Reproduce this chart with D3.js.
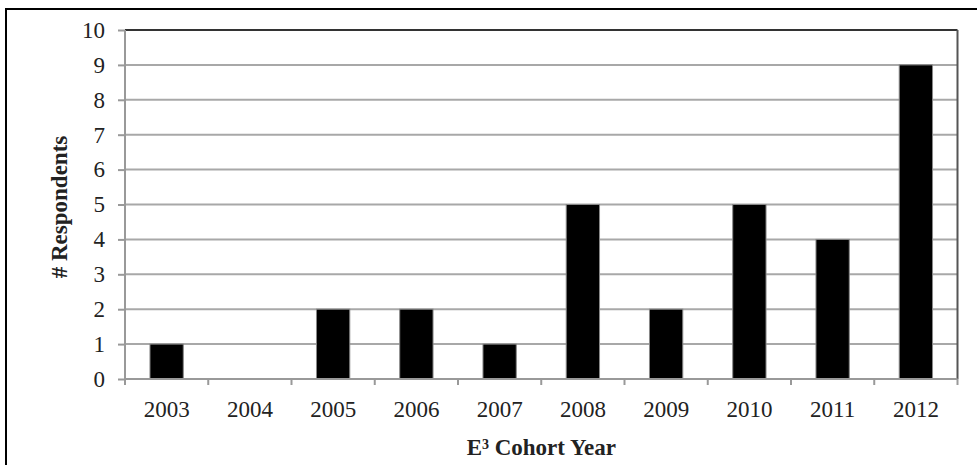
<!DOCTYPE html>
<html><head><meta charset="utf-8">
<script src="https://cdn.jsdelivr.net/npm/d3@7"></script>
<style>body{margin:0;background:#fff;} svg{display:block;}</style>
</head><body>
<svg id="c" width="977" height="465"></svg>
<script>
const categories = ["2003","2004","2005","2006","2007","2008","2009","2010","2011","2012"];
const respondents = [1,0,2,2,1,5,2,5,4,9];
const yTicks = [0,1,2,3,4,5,6,7,8,9,10];
const xTitle = "Cohort Year";
const yTitle = "# Respondents";

const svg = d3.select("#c");
const L = 125, R = 957.5, T = 30, B = 379;
const font = "'Liberation Serif','Times New Roman',serif";

// outer frame (only top and left visible)
svg.append("path").attr("d", `M6,465 L6,9 L977,9`).attr("fill","none").attr("stroke","#000").attr("stroke-width",2);

const x = d3.scaleBand().domain(categories).range([L, R]).padding(0);
const y = d3.scaleLinear().domain([0,10]).range([B, T]);

// gridlines
svg.append("g").selectAll("line").data(yTicks.filter(d=>d>0)).join("line")
  .attr("x1", L).attr("x2", R).attr("y1", d=>y(d)).attr("y2", d=>y(d))
  .attr("stroke", d => d===10 ? "#333" : "#a8a8a8").attr("stroke-width", 2);

// right border of plot
svg.append("line").attr("x1",R).attr("x2",R).attr("y1",T).attr("y2",B).attr("stroke","#555").attr("stroke-width",2);

// bars
const bw = x.bandwidth()*0.4;
svg.append("g").selectAll("rect").data(categories).join("rect")
  .attr("x", (d)=>x(d)+x.bandwidth()/2-bw/2)
  .attr("width", bw)
  .attr("y", (d,i)=>y(respondents[i]))
  .attr("height", (d,i)=>y(0)-y(respondents[i]))
  .attr("fill","#000").attr("stroke","#888").attr("stroke-width",1);

// y axis
const yAxis = d3.axisLeft(y).tickValues(yTicks).tickSize(7).tickPadding(13);
const gy = svg.append("g").attr("transform",`translate(${L},0)`).call(yAxis);
gy.select(".domain").attr("stroke","#999").attr("stroke-width",2).attr("d",`M0,${T}V${B}`);
gy.selectAll(".tick line").attr("stroke","#999").attr("stroke-width",2);
gy.selectAll(".tick text").attr("font-family",font).attr("font-size",23).attr("fill","#222");

// x axis
const xAxis = d3.axisBottom(x).tickSize(0).tickPadding(22);
const gx = svg.append("g").attr("transform",`translate(0,${B})`).call(xAxis);
gx.select(".domain").attr("stroke","#999").attr("stroke-width",2).attr("d",`M${L},0H${R}`);
gx.selectAll(".tick text").attr("font-family",font).attr("font-size",23).attr("fill","#222");
// x category boundary ticks
svg.append("g").selectAll("line").data(categories).join("line")
  .attr("x1", d=>x(d)+x.bandwidth()).attr("x2", d=>x(d)+x.bandwidth())
  .attr("y1", B).attr("y2", B+6).attr("stroke","#999").attr("stroke-width",2);
svg.append("line").attr("x1",L).attr("x2",L).attr("y1",B).attr("y2",B+6).attr("stroke","#999").attr("stroke-width",2);

// titles
const xt = svg.append("text").attr("x",(L+R)/2).attr("y",455).attr("text-anchor","middle")
  .attr("font-family",font).attr("font-size",23).attr("font-weight","bold").attr("fill","#222");
xt.append("tspan").text("E");
xt.append("tspan").attr("font-size",14).attr("dy",-6).text("3");
xt.append("tspan").attr("dy",6).text(" " + xTitle);

svg.append("text").attr("transform",`translate(67,207) rotate(-90)`).attr("text-anchor","middle")
  .attr("font-family",font).attr("font-size",23).attr("font-weight","bold").attr("fill","#222").text(yTitle);
</script>
</body></html>
